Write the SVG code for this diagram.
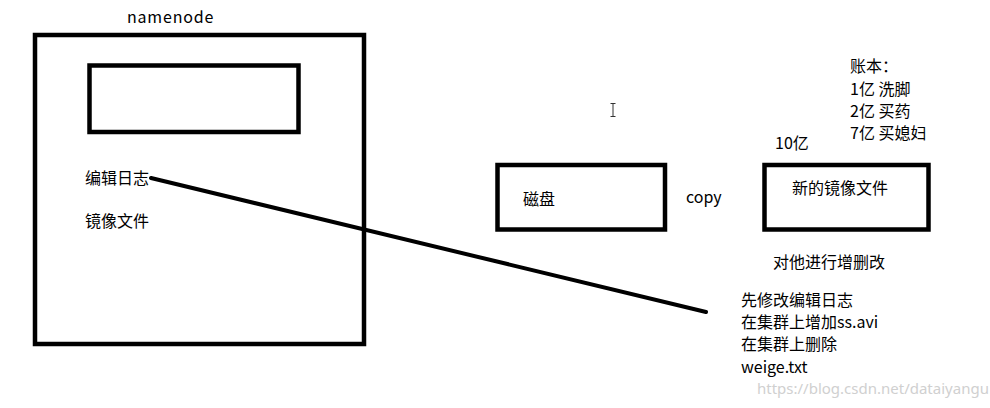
<svg xmlns="http://www.w3.org/2000/svg" width="990" height="408" viewBox="0 0 990 408">
<style>
.box{fill:none;stroke:#000;stroke-width:4.5}
.t{font-family:"Noto Sans CJK SC","Noto Sans",sans-serif;font-size:16px;fill:#000}
.wm{font-family:"Noto Sans","Liberation Sans",sans-serif;font-size:15px;fill:#d0d0d0}
</style>
<rect width="990" height="408" fill="#fff"/>
<g id="namenode">
<rect class="box" x="35" y="35" width="329" height="309"/>
<rect class="box" x="89.5" y="65.5" width="209" height="66.5"/>
<text class="t" x="127" y="23" letter-spacing="0.8">namenode</text>
<text class="t" x="85" y="184">编辑日志</text>
<text class="t" x="85" y="227">镜像文件</text>
</g>
<g id="disk">
<rect class="box" x="497.5" y="165" width="167.5" height="64.5"/>
<text class="t" x="523" y="205">磁盘</text>
</g>
<text class="t" x="686" y="203">copy</text>
<g id="newimage">
<rect class="box" x="764.5" y="165" width="164" height="64.5"/>
<text class="t" x="792" y="194">新的镜像文件</text>
</g>
<text class="t" x="775" y="149">10亿</text>
<g id="ledger">
<text class="t" x="850" y="72">账本：</text>
<text class="t" x="850" y="95">1亿 洗脚</text>
<text class="t" x="850" y="117">2亿 买药</text>
<text class="t" x="850" y="139">7亿 买媳妇</text>
</g>
<text class="t" x="773" y="268">对他进行增删改</text>
<g id="ops">
<text class="t" x="741" y="306">先修改编辑日志</text>
<text class="t" x="741" y="328">在集群上增加ss.avi</text>
<text class="t" x="741" y="350">在集群上删除</text>
<text class="t" x="741" y="373">weige.txt</text>
</g>
<g id="connectors">
<line x1="151" y1="178" x2="706" y2="312" stroke="#000" stroke-width="4" stroke-linecap="round"/>
</g>
<g id="cursor" stroke="#333" stroke-width="1" fill="none">
<path d="M610.5 103.5h5M613 103.5v13M610.5 116.5h5"/>
</g>
<text class="wm" x="757" y="394">https://blog.csdn.net/dataiyangu</text>
</svg>
